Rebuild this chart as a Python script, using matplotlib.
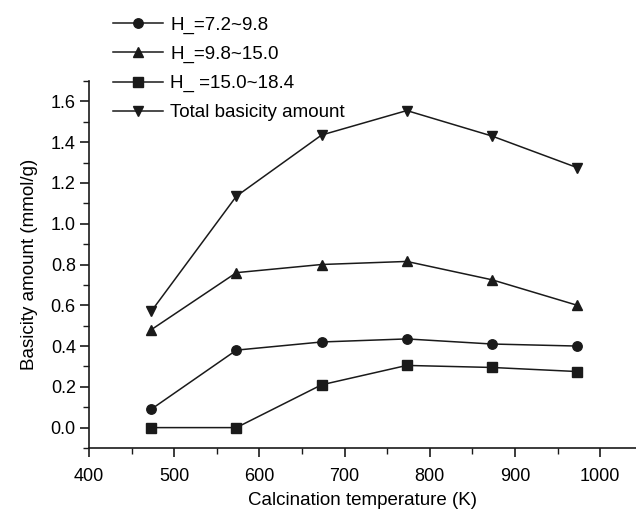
import matplotlib
matplotlib.use("Agg")
import matplotlib.pyplot as plt
from matplotlib.ticker import MultipleLocator

plt.rcParams['font.family'] = ['Liberation Sans', 'DejaVu Sans']

# calcination temperature (K)
temps = [473, 573, 673, 773, 873, 973]

# basicity amounts (mmol/g)
h_72_98 = [0.09, 0.38, 0.42, 0.435, 0.41, 0.40]
h_98_150 = [0.48, 0.76, 0.80, 0.815, 0.725, 0.60]
h_150_184 = [0.0, 0.0, 0.21, 0.305, 0.295, 0.275]
total = [0.57, 1.135, 1.435, 1.555, 1.43, 1.275]

labels = ["H_=7.2~9.8", "H_=9.8~15.0", "H_ =15.0~18.4", "Total basicity amount"]

fig = plt.figure(figsize=(6.36, 5.13), dpi=100)
ax = fig.add_axes([89/636, 65/513, 547/636, 367/513])

lc = '#1a1a1a'
ax.plot(temps, h_72_98, '-o', color=lc, lw=1.1, ms=6.8, label=labels[0])
ax.plot(temps, h_98_150, '-^', color=lc, lw=1.1, ms=7.5, label=labels[1])
ax.plot(temps, h_150_184, '-s', color=lc, lw=1.1, ms=6.5, label=labels[2])
ax.plot(temps, total, '-v', color=lc, lw=1.1, ms=7.5, label=labels[3])

ax.set_xlim(400, 1042)
ax.set_ylim(-0.1, 1.7)
ax.xaxis.set_major_locator(MultipleLocator(100))
ax.xaxis.set_minor_locator(MultipleLocator(50))
ax.yaxis.set_major_locator(MultipleLocator(0.2))
ax.yaxis.set_minor_locator(MultipleLocator(0.1))
ax.yaxis.set_major_formatter(matplotlib.ticker.FormatStrFormatter('%.1f'))

for s in ['top', 'right']:
    ax.spines[s].set_visible(False)
for s in ['left', 'bottom']:
    ax.spines[s].set_linewidth(1.2)
    ax.spines[s].set_color(lc)

ax.tick_params(which='major', direction='out', length=6.5, width=1.2, labelsize=13, color=lc)
ax.tick_params(axis='x', which='major', pad=8)
ax.tick_params(axis='y', which='major', pad=3)
ax.tick_params(which='minor', direction='out', length=4, width=1.0, color=lc)

ax.set_xlabel("Calcination temperature (K)", fontsize=13.5, labelpad=5)
ax.set_ylabel("Basicity amount (mmol/g)", fontsize=13.5, labelpad=9)

leg = fig.legend(loc='upper left', bbox_to_anchor=(104/636, 1 - 7/513),
                 frameon=False, fontsize=13.5, handlelength=2.67,
                 handletextpad=0.37, labelspacing=0.64, borderpad=0)

fig.savefig("out.png", dpi=100)
